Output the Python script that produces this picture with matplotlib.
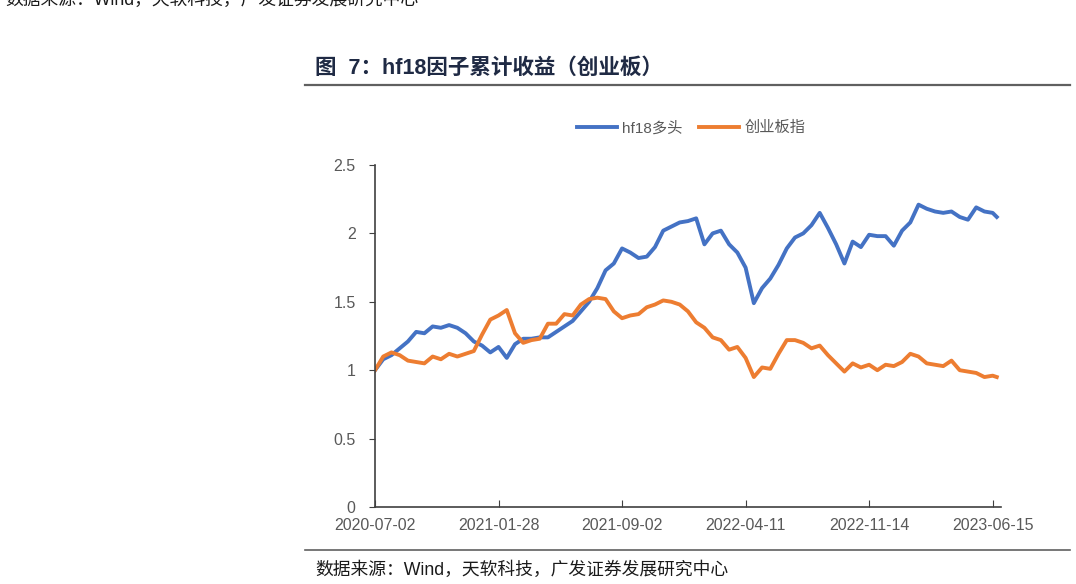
import matplotlib
matplotlib.use('Agg')
import matplotlib.pyplot as plt
from matplotlib.lines import Line2D

plt.rcParams['font.family'] = ['Liberation Sans', 'Noto Sans CJK SC', 'DejaVu Sans']
plt.rcParams['axes.unicode_minus'] = False

# week index of each sample (category axis, ticks every 30 weeks)
weeks = list(range(0, 152, 2)) + [151]

hf18 = [1.00, 1.08, 1.11, 1.16, 1.21, 1.28, 1.27, 1.32, 1.31, 1.33,
        1.31, 1.27, 1.21, 1.18, 1.13, 1.17, 1.09, 1.19, 1.23, 1.23,
        1.24, 1.24, 1.28, 1.32, 1.36, 1.43, 1.50, 1.60, 1.73, 1.78,
        1.89, 1.86, 1.82, 1.83, 1.90, 2.02, 2.05, 2.08, 2.09, 2.11,
        1.92, 2.00, 2.02, 1.92, 1.86, 1.75, 1.49, 1.60, 1.67, 1.77,
        1.89, 1.97, 2.00, 2.06, 2.15, 2.04, 1.92, 1.78, 1.94, 1.90,
        1.99, 1.98, 1.98, 1.91, 2.02, 2.08, 2.21, 2.18, 2.16, 2.15,
        2.16, 2.12, 2.10, 2.19, 2.16, 2.15, 2.12]

cyb = [1.00, 1.10, 1.13, 1.11, 1.07, 1.06, 1.05, 1.10, 1.08, 1.12,
       1.10, 1.12, 1.14, 1.26, 1.37, 1.40, 1.44, 1.27, 1.20, 1.22,
       1.23, 1.34, 1.34, 1.41, 1.40, 1.48, 1.52, 1.53, 1.52, 1.43,
       1.38, 1.40, 1.41, 1.46, 1.48, 1.51, 1.50, 1.48, 1.43, 1.35,
       1.31, 1.24, 1.22, 1.15, 1.17, 1.09, 0.95, 1.02, 1.01, 1.12,
       1.22, 1.22, 1.20, 1.16, 1.18, 1.11, 1.05, 0.99, 1.05, 1.02,
       1.04, 1.00, 1.04, 1.03, 1.06, 1.12, 1.10, 1.05, 1.04, 1.03,
       1.07, 1.00, 0.99, 0.98, 0.95, 0.96, 0.95]

tick_pos = [0, 30, 60, 90, 120, 150]
tick_labels = ['2020-07-02', '2021-01-28', '2021-09-02', '2022-04-11', '2022-11-14', '2023-06-15']
y_ticks = [0, 0.5, 1, 1.5, 2, 2.5]
y_labels = ['0', '0.5', '1', '1.5', '2', '2.5']

gray = '#595959'
fig = plt.figure(figsize=(10.76, 5.84), dpi=100)
ax = fig.add_axes([0.3485, 0.1318, 0.5817, 0.5857])

ax.plot(weeks, hf18, color='#4472C4', lw=2.8, label='hf18多头', solid_joinstyle='round')
ax.plot(weeks, cyb, color='#ED7D31', lw=2.8, label='创业板指', solid_joinstyle='round')

ax.set_xlim(0, 152)
ax.set_ylim(0, 2.5)
ax.set_xticks(tick_pos)
ax.set_xticklabels(tick_labels)
ax.set_yticks(y_ticks)
ax.set_yticklabels(y_labels)
ax.tick_params(axis='x', direction='in', length=5, colors='#404040', labelcolor=gray, labelsize=11.5, pad=8)
ax.tick_params(axis='y', direction='out', length=4, colors='#404040', labelcolor=gray, labelsize=11.5, pad=10)
for s in ['top', 'right']:
    ax.spines[s].set_visible(False)
for s in ['left', 'bottom']:
    ax.spines[s].set_color('#404040')
    ax.spines[s].set_linewidth(1.2)

leg = ax.legend(loc='center', bbox_to_anchor=(0.505, 1.108), ncol=2, frameon=False,
                fontsize=11, handlelength=2.6, columnspacing=1.1, handletextpad=0.35)
for t in leg.get_texts():
    t.set_color(gray)

# title and rules
fig.text(315 / 1076, 1 - 68 / 584, '图  7：hf18因子累计收益（创业板）', fontsize=15.5, fontweight='bold',
         color='#1F2A44', va='center', ha='left')
fig.add_artist(Line2D([305 / 1076, 1070 / 1076], [1 - 85 / 584] * 2, color='#606060', lw=1.6))
fig.add_artist(Line2D([305 / 1076, 1070 / 1076], [1 - 550 / 584] * 2, color='#606060', lw=1.2))
fig.text(315 / 1076, 1 - 570 / 584, '数据来源：Wind，天软科技，广发证券发展研究中心', fontsize=12.8,
         color='#1a1a1a', va='center', ha='left')
# line cut off at the very top, as in the source page
fig.text(5 / 1076, 1.0, '数据来源：Wind，天软科技，广发证券发展研究中心', fontsize=12.8,
         color='#1a1a1a', va='center', ha='left')

fig.savefig('out.png', dpi=100)
